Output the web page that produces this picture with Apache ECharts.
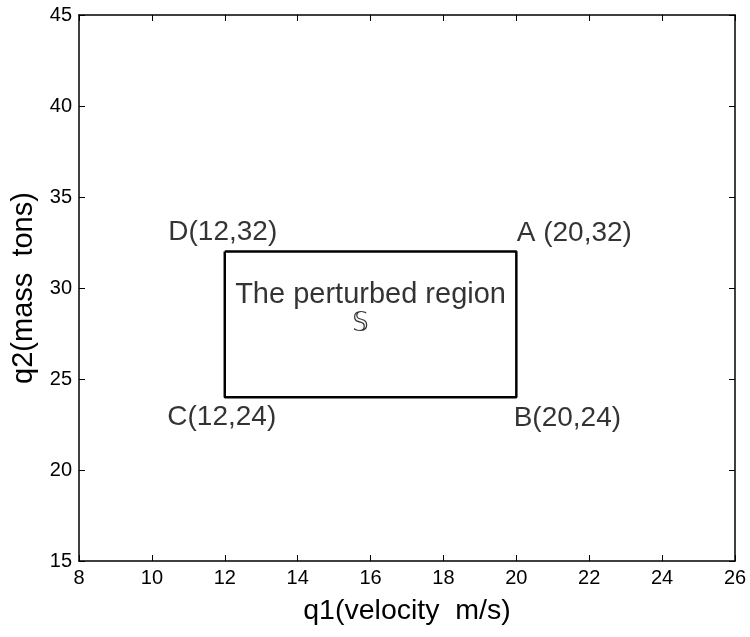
<!DOCTYPE html>
<html>
<head>
<meta charset="utf-8">
<script src="https://cdn.jsdelivr.net/npm/echarts@6/dist/echarts.min.js"></script>
<style>html,body{margin:0;padding:0;background:#fff}#c{width:750px;height:637px}</style>
</head>
<body>
<div id="c"></div>
<script>
// Region rectangle corners (closed path)
const rectX = [12, 20, 20, 12, 12];
const rectY = [32, 32, 24, 24, 32];
// Corner labels
const cornerNames = ['A (20,32)', 'B(20,24)', 'C(12,24)', 'D(12,32)'];
const cornerX = [20, 20, 12, 12];
const cornerY = [32, 24, 24, 32];
// Region annotation
const noteNames = ['The perturbed region', '\u{1D54A}'];
const noteX = [16, 16];
const noteY = [30, 30];
// Axes
const xMin = 8, xMax = 26, xStep = 2;
const yMin = 15, yMax = 45, yStep = 5;
const xTitle = 'q1(velocity  m/s)';
const yTitle = 'q2(mass  tons)';

const cornerOffsets = [[58, -18], [51, 21], [-3, 20], [-2, -19]];
const noteOffsets = [[0, 7], [-10, 36]];
const noteFonts = [29, 26];

const FONT = '"Liberation Sans", Arial, Helvetica, sans-serif';
const chart = echarts.init(document.getElementById('c'), null, {renderer: 'canvas'});

const axisCommon = {
  axisLine: {show: true, onZero: false, lineStyle: {color: '#000', width: 1.5}},
  axisTick: {show: true, inside: true, length: 6, lineStyle: {color: '#000', width: 1}},
  splitLine: {show: false}
};

chart.setOption({
  animation: false,
  backgroundColor: '#fff',
  grid: {left: 79, right: 15, top: 15, bottom: 76, containLabel: false},
  xAxis: [
    Object.assign({
      type: 'value', min: xMin, max: xMax, interval: xStep, position: 'bottom',
      name: xTitle, nameLocation: 'middle', nameGap: 36,
      nameTextStyle: {fontFamily: FONT, fontSize: 28.5, color: '#000'},
      axisLabel: {fontFamily: FONT, fontSize: 20, color: '#000', margin: 7}
    }, axisCommon),
    Object.assign({
      type: 'value', min: xMin, max: xMax, interval: xStep, position: 'top',
      axisLabel: {show: false}
    }, axisCommon)
  ],
  yAxis: [
    Object.assign({
      type: 'value', min: yMin, max: yMax, interval: yStep, position: 'left',
      name: yTitle, nameLocation: 'middle', nameGap: 36,
      nameTextStyle: {fontFamily: FONT, fontSize: 29, color: '#000'},
      axisLabel: {fontFamily: FONT, fontSize: 20, color: '#000', margin: 7}
    }, axisCommon),
    Object.assign({
      type: 'value', min: yMin, max: yMax, interval: yStep, position: 'right',
      axisLabel: {show: false}
    }, axisCommon)
  ],
  series: [
    {
      type: 'line',
      data: rectX.map((x, i) => [x, rectY[i]]),
      symbol: 'none',
      lineStyle: {color: '#000', width: 2.5},
      silent: true
    },
    {
      type: 'scatter',
      symbolSize: 0,
      data: cornerNames.map((n, i) => ({
        name: n, value: [cornerX[i], cornerY[i]],
        label: {offset: cornerOffsets[i]}
      })),
      label: {
        show: true, position: 'inside', formatter: p => p.name,
        fontFamily: FONT, fontSize: 28, color: '#000', textBorderWidth: 0
      },
      silent: true
    },
    {
      type: 'scatter',
      symbolSize: 0,
      data: noteNames.map((n, i) => ({
        name: n, value: [noteX[i], noteY[i]],
        label: {offset: noteOffsets[i], fontSize: noteFonts[i],
          fontFamily: i === 1 ? '"DejaVu Sans", "DejaVu Serif", serif' : FONT}
      })),
      label: {
        show: true, position: 'inside', formatter: p => p.name,
        color: '#000', textBorderWidth: 0
      },
      silent: true
    }
  ]
});
</script>
</body>
</html>
